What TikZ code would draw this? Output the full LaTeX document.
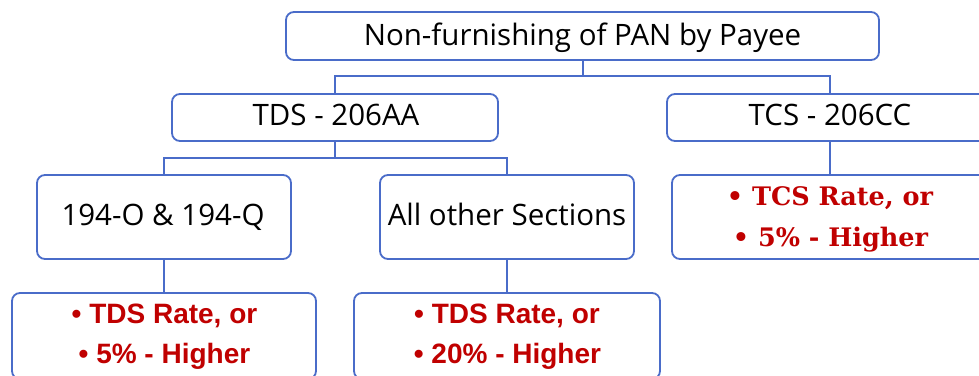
\documentclass[tikz,border=0pt]{standalone}
\usepackage{fontspec}
\setmainfont{Open Sans}
\newfontfamily\redsans{Liberation Sans}
\newfontfamily\redserif{DejaVu Serif}
\definecolor{lineblue}{HTML}{4A6CC9}
\definecolor{darkred}{HTML}{C00000}
\tikzset{
  box/.style={draw=lineblue, line width=1.8pt, rounded corners=8pt, fill=white, inner sep=0pt},
  link/.style={draw=lineblue, line width=1.8pt},
  blacktxt/.style={anchor=base, inner sep=0pt, font=\fontsize{29.5}{34}\selectfont, text=black},
  redtxt/.style={anchor=base, inner sep=0pt, font=\redsans\bfseries\fontsize{28}{34}\selectfont, text=darkred},
  serftxt/.style={anchor=base, inner sep=0pt, font=\redserif\bfseries\fontsize{25.5}{30}\selectfont, text=darkred}
}
\begin{document}
\begin{tikzpicture}[x=1pt,y=-1pt]
\useasboundingbox (0,0) rectangle (979,375);
\clip (0,0) rectangle (979,375);
% boxes
\node[box, minimum width=593pt, minimum height=48pt] (top) at (582.5,36) {};
\node[box, minimum width=326pt, minimum height=47pt] (tds) at (335,117.5) {};
\node[box, minimum width=326pt, minimum height=47pt] (tcs) at (830,117.5) {};
\node[box, minimum width=254pt, minimum height=84pt] (s194) at (164,217) {};
\node[box, minimum width=254pt, minimum height=84pt] (other) at (507,217) {};
\node[box, minimum width=316pt, minimum height=84pt] (tcsr) at (830,217) {};
\node[box, minimum width=304pt, minimum height=86pt] (r194) at (164,336) {};
\node[box, minimum width=306pt, minimum height=86pt] (rother) at (507,336) {};
% junctions
\coordinate (j1) at (583,76);
\coordinate (j2) at (335,158);
% connectors
\draw[link] (top.south -| j1) -- (j1);
\draw[link] (j1) -| (tds.north);
\draw[link] (j1) -| (tcs.north);
\draw[link] (tds.south) -- (j2);
\draw[link] (j2) -| (s194.north);
\draw[link] (j2) -| (other.north);
\draw[link] (s194.south) -- (r194.north);
\draw[link] (other.south) -- (rother.north);
\draw[link] (tcs.south) -- (tcsr.north);
% texts
\node[blacktxt] (ttop) at (582.5,45) {Non-furnishing of PAN by Payee};
\node[blacktxt] (ttds) at (336,125) {TDS - 206AA};
\node[blacktxt] (ttcs) at (830,125) {TCS - 206CC};
\node[blacktxt] (t194) at (163,225) {194-O \& 194-Q};
\node[blacktxt] (tother) at (507,225) {All other Sections};
\node[serftxt] (tcs1) at (830,205) {• TCS Rate, or};
\node[serftxt] (tcs2) at (830.5,246) {• 5\% - Higher};
\node[redtxt] (r1941) at (164.5,323) {• TDS Rate, or};
\node[redtxt] (r1942) at (164.5,363) {• 5\% - Higher};
\node[redtxt] (ro1) at (507,323) {• TDS Rate, or};
\node[redtxt] (ro2) at (507.5,363) {• 20\% - Higher};
\end{tikzpicture}
\end{document}
